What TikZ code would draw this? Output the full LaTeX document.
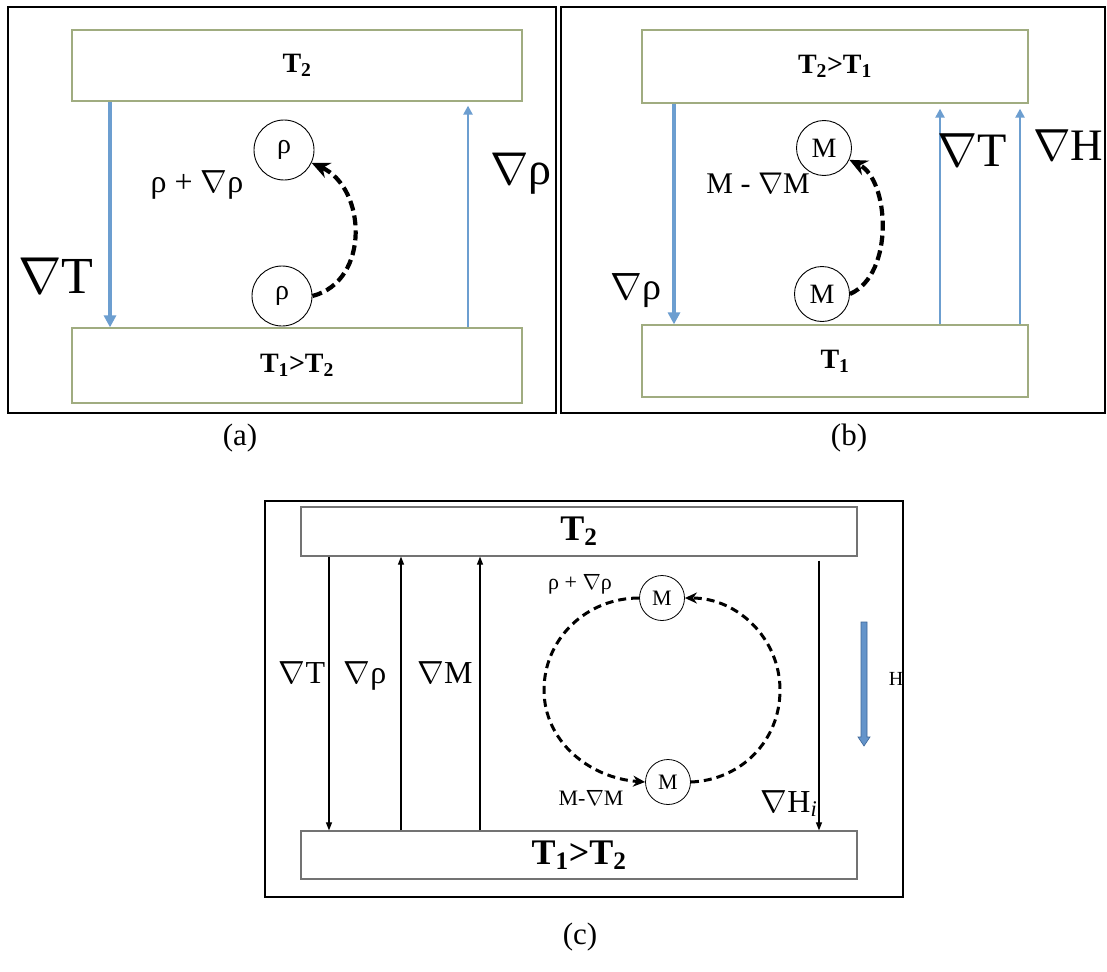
\RequirePackage{fix-cm}
\documentclass[tikz,border=0pt]{standalone}
\usepackage{fontspec}
\setmainfont{Liberation Serif}
\usetikzlibrary{arrows.meta}
\definecolor{bluearr}{RGB}{108,158,208}
\definecolor{olivebox}{RGB}{160,172,128}
\definecolor{grayb}{RGB}{115,115,115}
\definecolor{blockfill}{RGB}{100,148,202}
\definecolor{blockline}{RGB}{62,102,152}
\newcommand{\nb}{$\nabla$}
\newcommand{\fs}[1]{\fontsize{#1}{#1}\selectfont}
\begin{document}
\begin{tikzpicture}[x=1pt,y=-1pt,
  frame/.style={draw=black,line width=1.6},
  slab/.style={draw=olivebox,line width=1.3,inner sep=0,font=\fs{28}\bfseries},
  slabc/.style={draw=grayb,line width=1.2,inner sep=0,font=\fs{36}\bfseries},
  bluethick/.style={draw=bluearr,line width=3.4,-{Triangle[length=12,width=12]}},
  bluethin/.style={draw=bluearr,line width=2.6,-{Triangle[length=9,width=9]}},
  blackthin/.style={draw=black,line width=1.1,-{Triangle[length=8,width=6]}},
  bigl/.style={font=\fs{48},inner sep=0,anchor=base},
  midl/.style={font=\fs{32},inner sep=0,anchor=base},
  partic/.style={circle,draw,line width=0.9,inner sep=0,minimum size=60,font=\fs{28}},
  particc/.style={circle,draw,line width=0.8,inner sep=0,minimum size=45,font=\fs{22}},
  dasharr/.style={draw=black,line width=4.2,dash pattern=on 10 off 5,-{Stealth[length=18,width=16]}},
  dasharrc/.style={draw=black,line width=3,dash pattern=on 8 off 5,-{Stealth[length=12,width=11]}},
  smalll/.style={font=\fs{30},inner sep=0},
  smallc/.style={font=\fs{22},inner sep=0},
  caplab/.style={font=\fs{31},inner sep=0}
]
\fill[white] (0,0) rectangle (1107,971);
\useasboundingbox (0,0) rectangle (1107,971);

% ---------------- panel (a)
\draw[frame] (8,7) rectangle (556,413);
\node[slab,minimum width=450,minimum height=71] (a1) at (297,65.5) {T\textsubscript{2}};
\node[slab,minimum width=450,minimum height=75] (a2) at (297,365.5) {T\textsubscript{1}>T\textsubscript{2}};
\coordinate (aL) at (110,0);
\coordinate (aR) at (468,0);
\draw[bluethick] (aL |- a1.south) -- (aL |- a2.north);
\draw[bluethin,shorten >=4] (aR |- a2.north) -- (aR |- a1.south);
\node[bigl,font=\fs{52}] (aT) at (56,293) {\nb T};
\node[bigl,font=\fs{46}] (aRho) at (521,184) {\nb ρ};
\node[partic] (ra1) at (284,150) {ρ};
\node[partic] (ra2) at (282,296) {ρ};
\node[smalll,font=\fs{32}] (aLab) at (197,185) {ρ + \nb ρ};
\draw[dasharr] (ra2.east) .. controls +(58,-15) and +(55,25) .. (ra1.-25);

% ---------------- panel (b)
\draw[frame] (561,7) rectangle (1105,413);
\node[slab,minimum width=386,minimum height=73] (b1) at (835,66.5) {T\textsubscript{2}>T\textsubscript{1}};
\node[slab,minimum width=386,minimum height=72] (b2) at (835,361) {T\textsubscript{1}};
\coordinate (bL) at (674,0);
\coordinate (bT) at (940,0);
\coordinate (bH) at (1020,0);
\draw[bluethick] (bL |- b1.south) -- (bL |- b2.north);
\draw[bluethin,shorten >=5] (bT |- b2.north) -- (bT |- b1.south);
\draw[bluethin,shorten >=5] (bH |- b2.north) -- (bH |- b1.south);
\node[font=\fs{38},inner sep=0,anchor=base] (bRho) at (636,299) {\nb ρ};
\node[bigl] (bTl) at (972,166) {\nb T};
\node[bigl,font=\fs{45}] (bHl) at (1068,160) {\nb H};
\node[partic,minimum size=55] (bm1) at (824,148) {M};
\node[partic,minimum size=55] (bm2) at (822,294) {M};
\node[smalll] (bLab) at (758,183) {M - \nb M};
\draw[dasharr] (bm2.east) .. controls +(45,-20) and +(40,20) .. (bm1.-25);

% ---------------- panel (c)
\draw[frame] (265,501) rectangle (903,897);
\node[slabc,minimum width=556,minimum height=49] (c1) at (579,531.5) {T\textsubscript{2}};
\node[slabc,minimum width=556,minimum height=48] (c2) at (579,855) {T\textsubscript{1}>T\textsubscript{2}};
\coordinate (cT) at (329,0);
\coordinate (cR) at (401,0);
\coordinate (cM) at (480,0);
\coordinate (cH) at (819,0);
\draw[blackthin] (cT |- c1.south) -- (cT |- c2.north);
\draw[blackthin] (cR |- c2.north) -- (cR |- c1.south);
\draw[blackthin] (cM |- c2.north) -- (cM |- c1.south);
\draw[blackthin,shorten <=4] (cH |- c1.south) -- (cH |- c2.north);
\node[midl] (cTl) at (302,683) {\nb T};
\node[midl] (cRl) at (365,683) {\nb ρ};
\node[midl] (cMl) at (445,683) {\nb M};
\node[midl] (cHl) at (789,812) {\nb H\textsubscript{\itshape i}};
\node[particc] (cm1) at (662,598) {M};
\node[particc] (cm2) at (668,782) {M};
\coordinate (cLeft) at (544,690);
\coordinate (cRight) at (780,690);
\node[smallc] (cLab1) at (580,584) {ρ + \nb ρ};
\node[smallc] (cLab2) at (591,798) {M-\nb M};
\draw[dasharrc] (cm1.west) .. controls +(-53,0) and +(0,-51) .. (cLeft)
                 .. controls +(0,51) and +(-56,-4) .. (cm2.west);
\draw[dasharrc] (cm2.east) .. controls +(50,-2) and +(0,51) .. (cRight)
                 .. controls +(0,-51) and +(53,0) .. (cm1.east);
% blue block arrow
\filldraw[fill=blockfill,draw=blockline,line width=0.6]
  (861,622) -- (867,622) -- (867,737) -- (870,737) -- (864,746) -- (858,737) -- (861,737) -- cycle;
\node[font=\fs{20},inner sep=0] (cHs) at (896,679) {H};

% ---------------- captions
\node[caplab] (capA) at (240,438) {(a)};
\node[caplab] (capB) at (849,438) {(b)};
\node[caplab] (capC) at (580,937) {(c)};
\end{tikzpicture}
\end{document}
